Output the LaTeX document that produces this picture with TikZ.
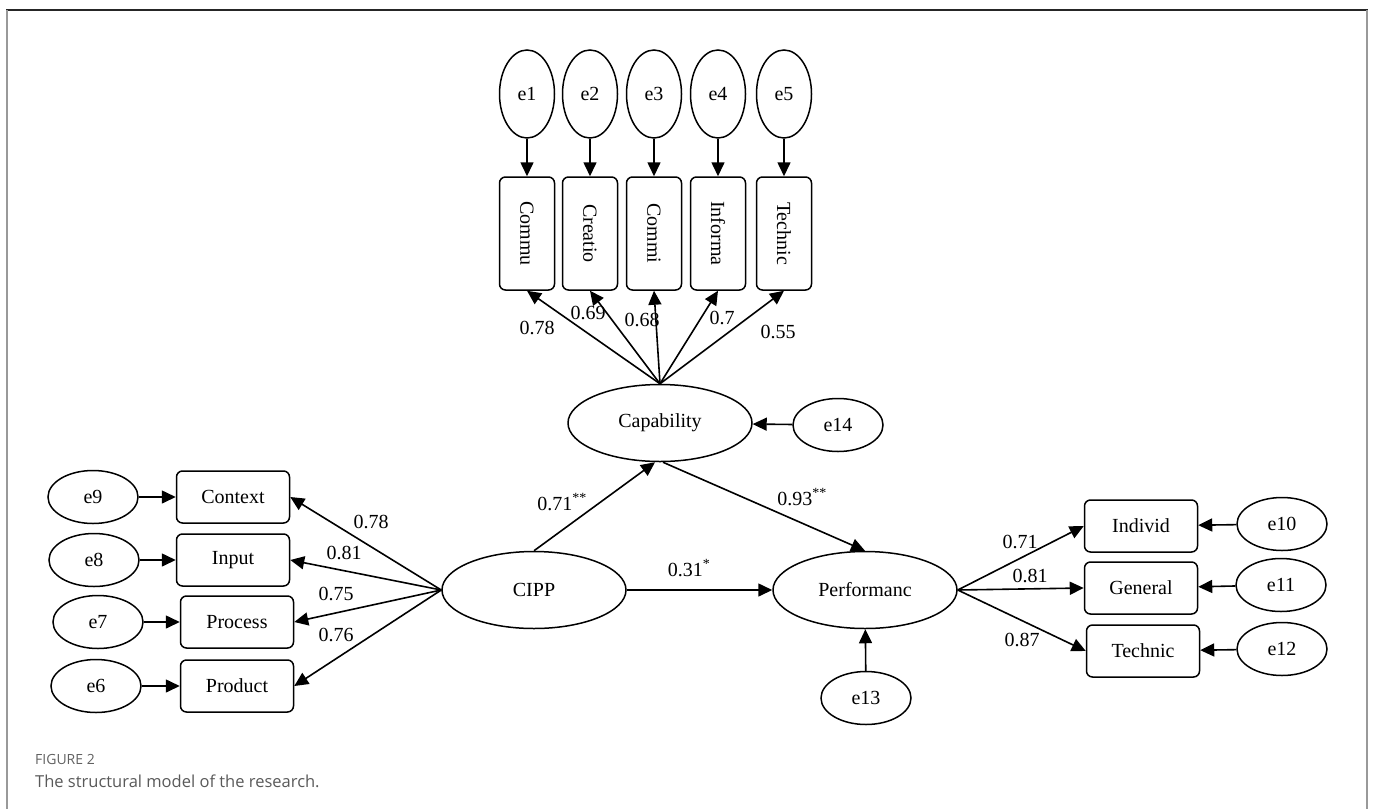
\documentclass[tikz,border=0pt]{standalone}
\usepackage{fontspec}
\setmainfont{Liberation Serif}
\newfontfamily\capfont{Open Sans}
\usetikzlibrary{shapes.geometric,arrows.meta}
\begin{document}
\begin{tikzpicture}[x=1pt,y=-1pt,
  every node/.style={font=\fontsize{20}{22}\selectfont, inner sep=0pt},
  lat/.style={ellipse,draw,line width=1.5pt,minimum width=184pt,minimum height=77pt},
  errh/.style={ellipse,draw,line width=1.5pt,minimum width=90pt,minimum height=53pt},
  errv/.style={ellipse,draw,line width=1.5pt,minimum width=55pt,minimum height=88pt},
  obsh/.style={draw,rounded corners=6pt,line width=1.5pt,minimum width=113pt,minimum height=52pt},
  obsv/.style={draw,rounded corners=6pt,line width=1.5pt,minimum width=55pt,minimum height=113pt},
  arr/.style={-{Triangle[length=14pt,width=13pt]},line width=1.6pt},
  lbl/.style={font=\fontsize{20}{22}\selectfont}
]
\useasboundingbox (0,0) rectangle (1373,809);
% frame
\draw[line width=2pt,color=black!85] (6,10) -- (1368,10);
\draw[line width=2.2pt,color=black!40] (7,10) -- (7,809);
\draw[line width=2.2pt,color=black!40] (1367,10) -- (1367,809);

% top error terms and indicators
\foreach \i/\x/\t in {1/527/Commu,2/590/Creatio,3/654/Commi,4/718/Informa,5/784/Technic}{
  \node[errv] (e\i) at (\x,94) {e\i};
  \node[obsv] (b\i) at (\x,233.5) {\rotatebox{-90}{\t}};
  \draw[arr] (e\i) -- (b\i);
}

% latent variables
\node[lat] (cap) at (660,423) {Capability};
\node[lat] (cipp) at (534,590) {CIPP};
\node[lat] (perf) at (865,590) {Performanc};
\node[errh] (e14) at (838,425) {e14};
\node[errh] (e13) at (866,698) {e13};

\foreach \i in {1,...,5}{\draw[arr] (cap.north) -- (b\i.south);}
\node[lbl] at (537,328) {0.78};
\node[lbl] at (588,313) {0.69};
\node[lbl] at (642,320) {0.68};
\node[lbl] at (722,318) {0.7};
\node[lbl] at (778,332) {0.55};

\draw[arr] (e14) -- (cap);
\draw[arr] (e13) -- (perf);
\draw[arr] (cipp.north) -- ([xshift=-5pt]cap.south);
\draw[arr] ([xshift=3pt]cap.south) -- (perf.north);
\draw[arr] (cipp) -- (perf);
\node[lbl] at (562,502) {0.71\textsuperscript{**}};
\node[lbl] at (802,497) {0.93\textsuperscript{**}};
\node[lbl] at (689,568) {0.31\textsuperscript{*}};

% left side
\node[obsh] (ctx) at (233,497) {Context};
\node[obsh] (inp) at (233,560) {Input};
\node[obsh] (pro) at (237,622) {Process};
\node[obsh] (prd) at (237,686) {Product};
\node[errh] (e9) at (93,497) {e9};
\node[errh] (e8) at (94,560) {e8};
\node[errh] (e7) at (98,622) {e7};
\node[errh] (e6) at (96,686) {e6};
\draw[arr] (e9) -- (ctx);
\draw[arr] (e8) -- (inp);
\draw[arr] (e7) -- (pro);
\draw[arr] (e6) -- (prd);
\draw[arr] (cipp.west) -- (ctx.east);
\draw[arr] (cipp.west) -- (inp.east);
\draw[arr] (cipp.west) -- (pro.east);
\draw[arr] (cipp.west) -- (prd.east);
\node[lbl] at (371,522) {0.78};
\node[lbl] at (344,553) {0.81};
\node[lbl] at (336,594) {0.75};
\node[lbl] at (336,635) {0.76};

% right side
\node[obsh] (ind) at (1141,526) {Individ};
\node[obsh] (gen) at (1141,588) {General};
\node[obsh] (tec) at (1143,651) {Technic};
\node[errh] (e10) at (1282,524) {e10};
\node[errh] (e11) at (1281,585) {e11};
\node[errh] (e12) at (1282,649) {e12};
\draw[arr] (e10) -- (ind);
\draw[arr] (e11) -- (gen);
\draw[arr] (e12) -- (tec);
\draw[arr] (perf.east) -- (ind.west);
\draw[arr] (perf.east) -- (gen.west);
\draw[arr] (perf.east) -- (tec.west);
\node[lbl] at (1020,542) {0.71};
\node[lbl] at (1030,576) {0.81};
\node[lbl] at (1022,640) {0.87};

% caption
\node[anchor=west,font=\capfont\fontsize{14}{16}\selectfont,text=black!62] (fig) at (35,759) {FIGURE 2};
\node[anchor=west,font=\capfont\fontsize{16.5}{18}\selectfont,text=black!65] (cap2) at (35,781) {The structural model of the research.};
\end{tikzpicture}
\end{document}
